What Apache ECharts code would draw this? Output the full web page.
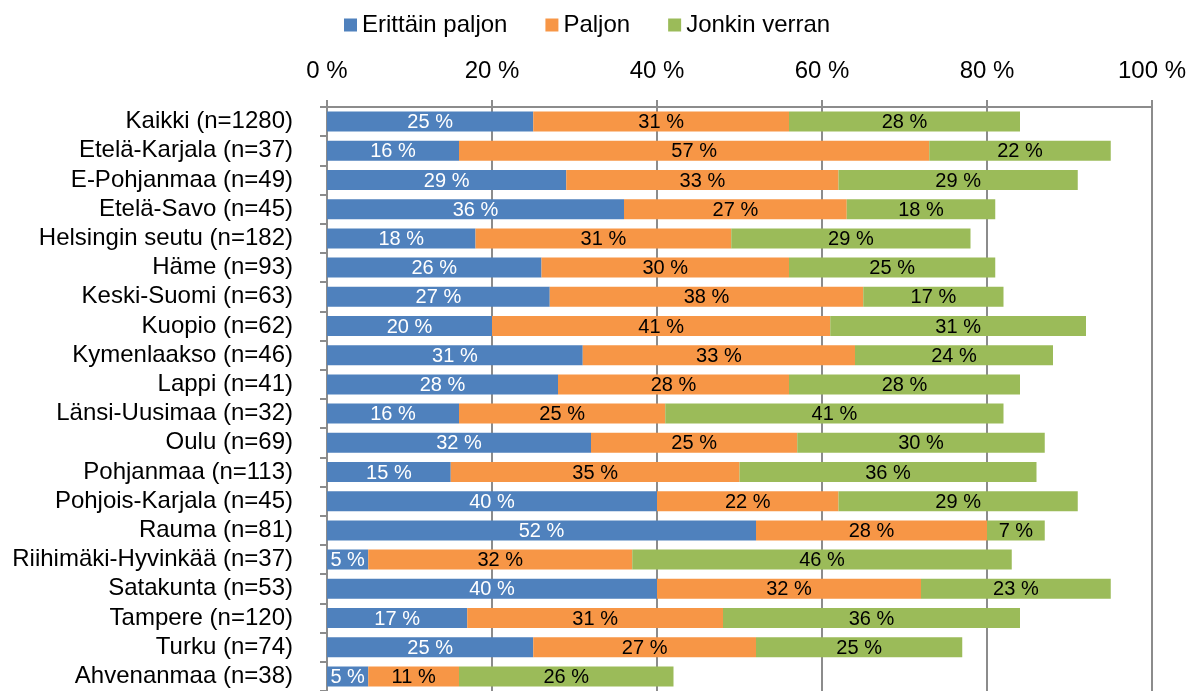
<!DOCTYPE html>
<html>
<head>
<meta charset="utf-8">
<script src="https://cdn.jsdelivr.net/npm/echarts@6/dist/echarts.min.js"></script>
<style>
  html, body { margin: 0; padding: 0; background: #fff; }
  #chart { width: 1204px; height: 691px; }
</style>
</head>
<body>
<div id="chart"></div>
<script>
const CATEGORIES = [
    'Kaikki (n=1280)', 'Etelä-Karjala (n=37)', 'E-Pohjanmaa (n=49)', 'Etelä-Savo (n=45)',
    'Helsingin seutu (n=182)', 'Häme (n=93)', 'Keski-Suomi (n=63)', 'Kuopio (n=62)',
    'Kymenlaakso (n=46)', 'Lappi (n=41)', 'Länsi-Uusimaa (n=32)', 'Oulu (n=69)',
    'Pohjanmaa (n=113)', 'Pohjois-Karjala (n=45)', 'Rauma (n=81)', 'Riihimäki-Hyvinkää (n=37)',
    'Satakunta (n=53)', 'Tampere (n=120)', 'Turku (n=74)', 'Ahvenanmaa (n=38)',
];
const ERITTAIN_PALJON = [25, 16, 29, 36, 18, 26, 27, 20, 31, 28, 16, 32, 15, 40, 52, 5, 40, 17, 25, 5];
const PALJON          = [31, 57, 33, 27, 31, 30, 38, 41, 33, 28, 25, 25, 35, 22, 28, 32, 32, 31, 27, 11];
const JONKIN_VERRAN   = [28, 22, 29, 18, 29, 25, 17, 31, 24, 28, 41, 30, 36, 29,  7, 46, 23, 36, 25, 26];
const X_TICKS = [0, 20, 40, 60, 80, 100];

const FONT = '"Liberation Sans", Arial, sans-serif';
const GRID_COLOR = '#8c8c8c';

function series(name, data, color, labelColor) {
    return {
        name, type: 'bar', stack: 'total', data,
        barWidth: 20,
        itemStyle: { color },
        label: {
            show: true, position: 'inside', offset: [0, 1],
            formatter: '{c} %',
            color: labelColor, fontFamily: FONT, fontSize: 20,
        },
    };
}

const chart = echarts.init(document.getElementById('chart'), null, { renderer: 'canvas' });
chart.setOption({
    animation: false,
    textStyle: { fontFamily: FONT },
    legend: {
        top: 8, left: 339,
        itemWidth: 13, itemHeight: 13, itemGap: 38,
        icon: 'rect',
        textStyle: { fontFamily: FONT, fontSize: 24, color: '#000' },
    },
    grid: { left: 327, top: 107, width: 825, height: 586 },
    xAxis: {
        type: 'value', position: 'top',
        min: X_TICKS[0], max: X_TICKS[X_TICKS.length - 1], interval: 20,
        axisLine: { show: true, lineStyle: { color: GRID_COLOR, width: 2 } },
        axisTick: { show: true, length: 7, lineStyle: { color: GRID_COLOR, width: 2 } },
        splitLine: { show: true, lineStyle: { color: GRID_COLOR, width: 2 } },
        axisLabel: { formatter: '{value} %', fontFamily: FONT, fontSize: 24, color: '#000', margin: 24 },
    },
    yAxis: {
        type: 'category', inverse: true, data: CATEGORIES,
        axisLine: { show: true, lineStyle: { color: GRID_COLOR, width: 2 } },
        axisTick: { show: true, length: 7, lineStyle: { color: GRID_COLOR, width: 2 } },
        axisLabel: { interval: 0, fontFamily: FONT, fontSize: 24, color: '#000', margin: 34 },
    },
    series: [
        series('Erittäin paljon', ERITTAIN_PALJON, '#4F81BD', '#fff'),
        series('Paljon', PALJON, '#F79646', '#000'),
        series('Jonkin verran', JONKIN_VERRAN, '#9BBB59', '#000'),
    ],
});
</script>
</body>
</html>
